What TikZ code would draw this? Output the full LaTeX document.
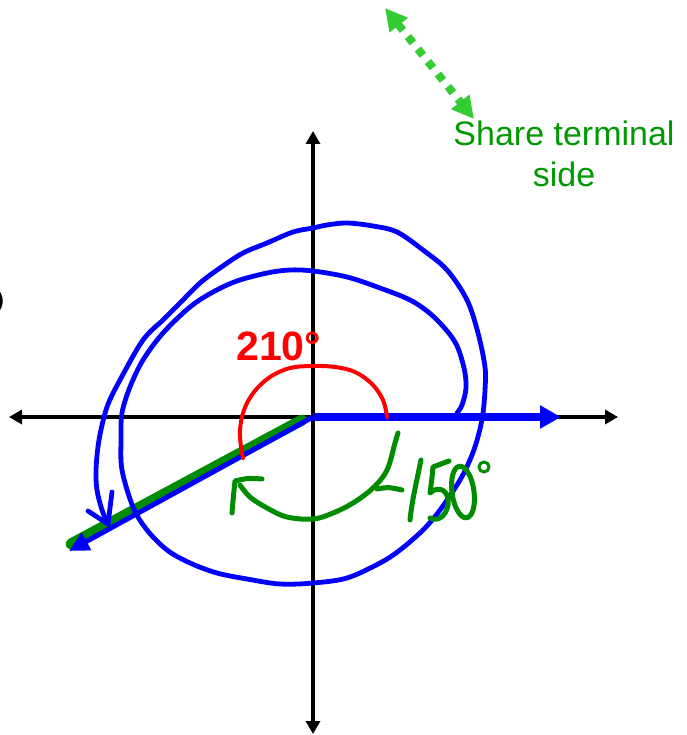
\documentclass[tikz,border=0pt]{standalone}
\usepackage{fontspec}
\setmainfont{Liberation Sans}
\usetikzlibrary{arrows.meta}
\definecolor{hgreen}{RGB}{0,140,0}
\definecolor{tgreen}{RGB}{0,153,0}
\definecolor{lgreen}{RGB}{51,204,51}
\definecolor{pblue}{RGB}{0,0,255}
\definecolor{pred}{RGB}{255,0,0}
\tikzset{
  axisline/.style={line width=3.5pt, -{Triangle[length=13pt,width=14pt]}},
  inkblue/.style={pblue, line width=4.8pt, line cap=round, line join=round},
  inkgreen/.style={hgreen, line width=5pt, line cap=round, line join=round},
  inkred/.style={pred, line width=4pt, line cap=round},
}
\begin{document}
\begin{tikzpicture}[x=1pt,y=-1pt]
\useasboundingbox (0,0) rectangle (686,735);
% coordinates
\coordinate (O) at (313,417);
\coordinate (xl) at (9,417);
\coordinate (xr) at (618,417);
\coordinate (yt) at (313,131);
\coordinate (yb) at (313,734);
\coordinate (bx) at (561,417);
\coordinate (bt) at (69,551);
\coordinate (ga) at (302,420);
\coordinate (gb) at (71,544);
\coordinate (da) at (385,8);
\coordinate (db) at (474,119);
% partial bracket at left edge
\draw[line width=3.5pt] (-5,289) .. controls (3,295) and (3,307) .. (-5,313);
% axes
\draw[axisline] (O) -- (xl);
\draw[axisline] (O) -- (xr);
\draw[axisline] (O) -- (yt);
\draw[axisline] (O) -- (yb);
% green highlight of terminal side
\draw[hgreen, line width=11pt, line cap=round] (ga) -- (gb);
% blue terminal side and initial side
\draw[pblue, line width=5pt, -{Triangle[length=20pt,width=19pt]}] (O) -- (bt);
\draw[pblue, line width=7.5pt, -{Triangle[length=21pt,width=22pt]}] (O) -- (bx);
% red arc 210
\draw[inkred] plot[smooth, tension=0.6] coordinates {(387,417) (383,400) (372,384) (355,372) (335,367) (313,366) (290,368) (270,377) (254,392) (244,410) (240,430) (241,447) (243,458)};
\node[pred, font=\fontsize{41}{49}\selectfont\bfseries, anchor=base west, inner sep=0pt] (l210) at (236,360) {210°};
% blue spiral
\draw[inkblue] plot[smooth, tension=0.55] coordinates {(457,413) (462,405) (466,388) (464,368) (455,342) (435,318) (412,301) (380,288) (347,277) (313,271) (290,270) (267,273) (237,281) (213,292) (190,307) (163,333) (143,360) (130,387) (122,413) (121,440) (122,470) (133,507) (147,530) (167,550) (190,563) (217,573) (247,579) (280,584) (313,583) (347,578) (380,563) (400,550) (423,530) (440,510) (460,480) (472,455) (479,433) (483,413) (485,390) (485,367) (478,333) (467,300) (447,270) (423,250) (397,232) (373,226) (347,223) (327,225) (313,228) (293,232) (267,243) (243,253) (220,268) (200,283) (180,303) (163,320) (143,340) (120,380) (107,407) (99,440) (96,470) (97,490) (102,510) (108,524)};
\draw[inkblue] (88,511) -- (108,524) -- (112,492);
% green -150 arc and arrow
\draw[inkgreen] plot[smooth, tension=0.6] coordinates {(398,433) (395,443) (387,470) (373,488) (353,503) (333,513) (313,519) (287,517) (267,508) (250,497) (240,485)};
\draw[inkgreen] (232,513) .. controls (233,500) .. (235,481) .. controls (248,478) .. (262,479);
% handwritten -150 degrees
\draw[inkgreen] (377,489) .. controls (388,487) .. (402,490);
\draw[inkgreen] (421,460) .. controls (417,480) and (412,500) .. (410,520);
\draw[inkgreen] (449,461) -- (433,467) .. controls (432,478) .. (430,493) .. controls (440,484) and (450,492) .. (448,505) .. controls (446,516) and (438,522) .. (430,518);
\draw[inkgreen, rotate around={8:(463,492)}] (463,492) ellipse[x radius=11pt, y radius=26pt];
\draw[inkgreen, line width=3pt] (484,467) circle[radius=5pt];
% share terminal side
\draw[lgreen, line width=8pt, dash pattern=on 8pt off 8pt, {Triangle[length=22pt,width=22pt]}-{Triangle[length=22pt,width=22pt]}] (da) -- (db);
\node[tgreen, font=\fontsize{34}{41}\selectfont, align=center, anchor=north, inner sep=0pt] (share) at (564,121) {Share terminal\\side};
\end{tikzpicture}
\end{document}
